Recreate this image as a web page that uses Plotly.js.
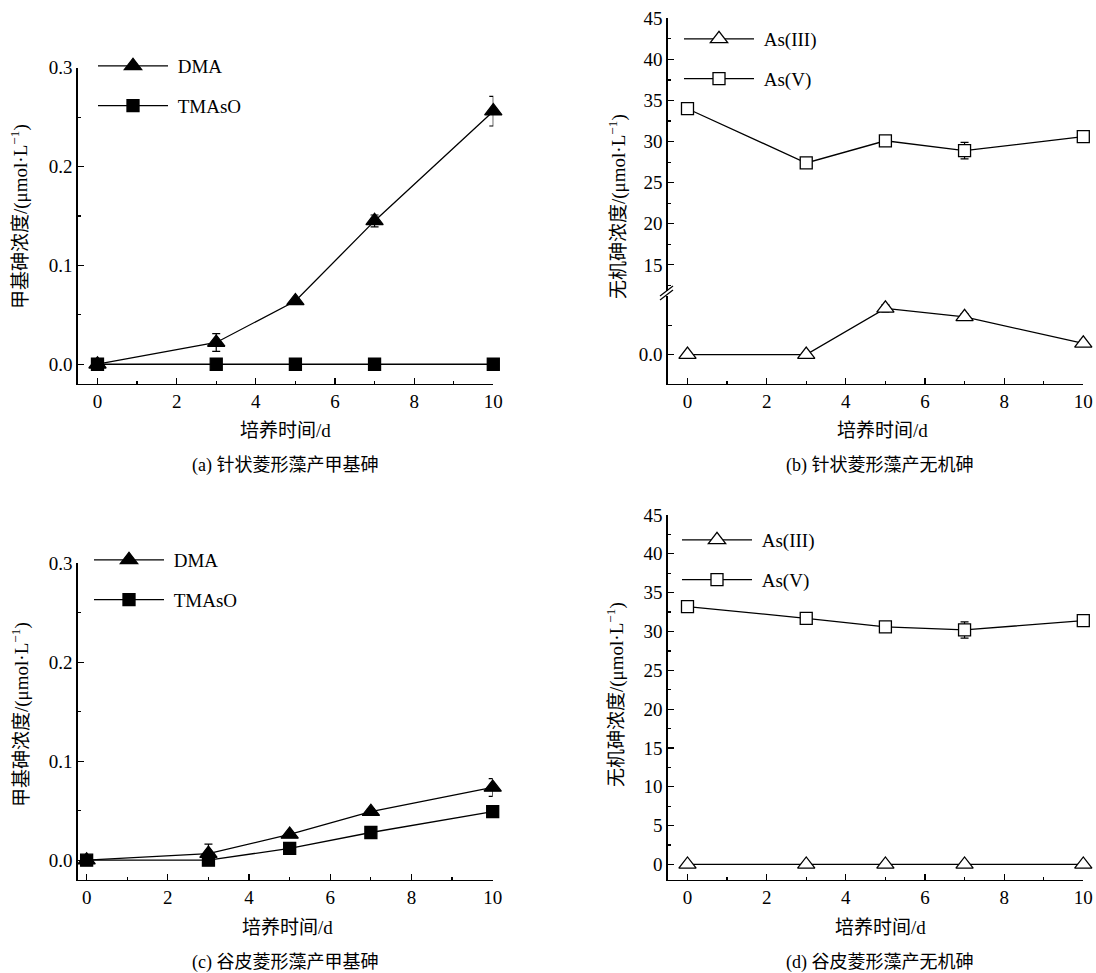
<!DOCTYPE html>
<html>
<head>
<meta charset="utf-8">
<script src="https://cdn.plot.ly/plotly-3.0.1.min.js"></script>
<style>html,body{margin:0;padding:0;background:#fff;}#chart{width:1096px;height:973px;}</style>
</head>
<body>
<div id="chart"></div>
<script>
// ---- data ----
const days = [0, 3, 5, 7, 10];

// (a) 针状菱形藻 methyl arsenic
const dmaA = [0, 0.022, 0.064, 0.145, 0.256];
const dmaAErr = [0.002, 0.009, 0.002, 0.006, 0.015];
const tmasoA = [0, 0, 0, 0, 0];
const tmasoAErr = [0, 0, 0, 0, 0];

// (b) 针状菱形藻 inorganic arsenic
const as3B = [0, 0, 1.57, 1.28, 0.38];
const as3BErr = [0, 0, 0.12, 0.1, 0.1];
const as5B = [34.0, 27.4, 30.1, 28.9, 30.6];
const as5BErr = [0.3, 0.4, 0.4, 1.0, 0.3];

// (c) 谷皮菱形藻 methyl arsenic
const dmaC = [0, 0.0067, 0.026, 0.049, 0.0735];
const dmaCErr = [0.001, 0.0095, 0.002, 0.003, 0.009];
const tmasoC = [0, 0, 0.012, 0.028, 0.049];
const tmasoCErr = [0, 0.001, 0.002, 0.004, 0.002];

// (d) 谷皮菱形藻 inorganic arsenic
const as3D = [0, 0, 0, 0, 0];
const as3DErr = [0, 0, 0, 0, 0];
const as5D = [33.2, 31.7, 30.6, 30.2, 31.4];
const as5DErr = [0.3, 0.4, 0.6, 1.05, 0.4];

const seriesNames = ['DMA', 'TMAsO', 'As(III)', 'As(V)'];
const xTitle = '培养时间/d';
const yTitleMethyl = '甲基砷浓度/(μmol·L<sup>−1</sup>)';
const yTitleInorg = '无机砷浓度/(μmol·L<sup>−1</sup>)';
const captions = ['(a) 针状菱形藻产甲基砷', '(b) 针状菱形藻产无机砷', '(c) 谷皮菱形藻产甲基砷', '(d) 谷皮菱形藻产无机砷'];

// ---- helpers ----
const W = 1096, H = 973;
const FONT = 'Liberation Serif, "Noto Sans CJK SC", serif';
const px = v => v / W;
const py = v => 1 - v / H;
const pad = s => '\u00a0' + s;

function tr(name, x, y, err, xa, ya, sym, open, size, legend, group) {
  return {
    type: 'scatter', mode: 'lines+markers', name: pad(name), x: x, y: y,
    xaxis: xa, yaxis: ya, legend: legend, legendgroup: group, cliponaxis: false,
    line: {color: '#000', width: 1.3},
    marker: {symbol: sym, size: size, color: open ? '#fff' : '#000', line: {color: '#000', width: 1.3}},
    error_y: {type: 'data', array: err, visible: true, color: '#000', thickness: 1.2, width: 4}
  };
}

const data = [
  tr(seriesNames[0], days, dmaA, dmaAErr, 'x', 'y', 'triangle-up', false, 15, 'legend', 'a1'),
  tr(seriesNames[1], days, tmasoA, tmasoAErr, 'x', 'y', 'square', false, 12, 'legend', 'a2'),
  tr(seriesNames[2], days, as3B, as3BErr, 'x2', 'y2', 'triangle-up', true, 15, 'legend2', 'b1'),
  tr(seriesNames[3], days, as5B, as5BErr, 'x2', 'y3', 'square', true, 12, 'legend2', 'b2'),
  tr(seriesNames[0], days, dmaC, dmaCErr, 'x3', 'y4', 'triangle-up', false, 15, 'legend3', 'c1'),
  tr(seriesNames[1], days, tmasoC, tmasoCErr, 'x3', 'y4', 'square', false, 12, 'legend3', 'c2'),
  tr(seriesNames[2], days, as3D, as3DErr, 'x4', 'y5', 'triangle-up', true, 15, 'legend4', 'd1'),
  tr(seriesNames[3], days, as5D, as5DErr, 'x4', 'y5', 'square', true, 12, 'legend4', 'd2')
];

const baseAxis = {
  showline: true, linecolor: '#000', linewidth: 1.3, showgrid: false, zeroline: false,
  ticks: 'inside', ticklen: 6, tickwidth: 1.2, tickcolor: '#000',
  tickfont: {family: FONT, size: 19, color: '#000'}, fixedrange: true
};
function xax(domain, range, anchor) {
  return Object.assign({}, baseAxis, {domain: domain, range: range, anchor: anchor,
    tickvals: [0, 2, 4, 6, 8, 10], minor: {tickvals: [1, 3, 5, 7, 9], ticklen: 3.5, tickcolor: '#000', ticks: 'inside'}});
}
function yax(domain, range, anchor, extra) {
  return Object.assign({}, baseAxis, {domain: domain, range: range, anchor: anchor}, extra);
}

const legendBase = {bgcolor: 'rgba(0,0,0,0)', font: {family: FONT, size: 19, color: '#000'},
  traceorder: 'grouped', tracegroupgap: 12, itemwidth: 70, xanchor: 'left', yanchor: 'top'};

function ann(text, x, y, size, angle) {
  return {text: text, x: px(x), y: py(y), xref: 'paper', yref: 'paper', showarrow: false,
    font: {family: FONT, size: size, color: '#000'}, textangle: angle || 0, xanchor: 'center', yanchor: 'middle'};
}

const layout = {
  width: W, height: H, margin: {l: 0, r: 0, t: 0, b: 0},
  paper_bgcolor: '#fff', plot_bgcolor: 'rgba(0,0,0,0)', showlegend: true,
  font: {family: FONT, color: '#000'},
  xaxis: xax([px(77.7), px(493.3)], [-0.5, 10], 'y'),
  yaxis: yax([py(384), py(67.7)], [-0.02, 0.3], 'x', {tickvals: [0, 0.1, 0.2, 0.3], tickformat: '.1f',
    minor: {tickvals: [0.05, 0.15, 0.25], ticklen: 3.5, tickcolor: '#000', ticks: 'inside'}}),
  xaxis2: xax([px(667.7), px(1083.3)], [-0.5, 10], 'y2'),
  yaxis2: yax([py(384), py(295.7)], [-1, 2], 'x2', {tickvals: [0], ticktext: ['0.0'],
    minor: {tickvals: [1], ticklen: 4.5, tickcolor: '#000', ticks: 'inside'}}),
  yaxis3: yax([py(291.2), py(18.3)], [11.8, 45], 'x2', {tickvals: [15, 20, 25, 30, 35, 40, 45],
    minor: {tickvals: [12.5, 17.5, 22.5, 27.5, 32.5, 37.5, 42.5], ticklen: 3.5, tickcolor: '#000', ticks: 'inside'}}),
  xaxis3: xax([px(77.7), px(492.7)], [-0.22, 10], 'y4'),
  yaxis4: yax([py(880), py(563.3)], [-0.02, 0.3], 'x3', {tickvals: [0, 0.1, 0.2, 0.3], tickformat: '.1f',
    minor: {tickvals: [0.05, 0.15, 0.25], ticklen: 3.5, tickcolor: '#000', ticks: 'inside'}}),
  xaxis4: xax([px(667.7), px(1083.3)], [-0.5, 10], 'y5'),
  yaxis5: yax([py(880), py(515)], [-2, 45], 'x4', {tickvals: [0, 5, 10, 15, 20, 25, 30, 35, 40, 45],
    minor: {tickvals: [2.5, 7.5, 12.5, 17.5, 22.5, 27.5, 32.5, 37.5, 42.5], ticklen: 3.5, tickcolor: '#000', ticks: 'inside'}}),
  legend: Object.assign({}, legendBase, {x: px(93), y: py(47)}),
  legend2: Object.assign({}, legendBase, {x: px(679), y: py(20)}),
  legend3: Object.assign({}, legendBase, {x: px(89), y: py(541)}),
  legend4: Object.assign({}, legendBase, {x: px(677), y: py(521)}),
  shapes: [
    {type: 'line', xref: 'paper', yref: 'paper', x0: px(660), y0: py(296), x1: px(673), y1: py(286), line: {color: '#000', width: 1.2}},
    {type: 'line', xref: 'paper', yref: 'paper', x0: px(660), y0: py(300), x1: px(673), y1: py(290), line: {color: '#000', width: 1.2}}
  ],
  annotations: [
    ann(yTitleMethyl, 20, 217, 19, -90),
    ann(yTitleInorg, 617, 207, 19, -90),
    ann(yTitleMethyl, 20, 715, 19, -90),
    ann(yTitleInorg, 615, 695, 19, -90),
    ann(xTitle, 285, 430, 19),
    ann(xTitle, 882, 430, 19),
    ann(xTitle, 287, 927, 19),
    ann(xTitle, 880, 927, 19),
    ann(captions[0], 285, 466, 18),
    ann(captions[1], 880, 465, 18),
    ann(captions[2], 285, 962, 18),
    ann(captions[3], 880, 962, 18)
  ]
};

Plotly.newPlot('chart', data, layout, {displayModeBar: false, staticPlot: true});
</script>
</body>
</html>
